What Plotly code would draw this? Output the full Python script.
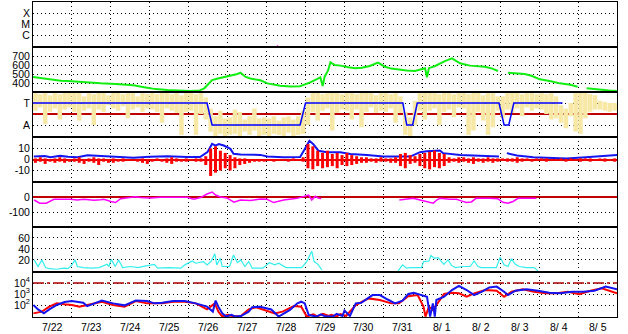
import plotly.graph_objects as go

# ---------------- data (x = days since 7/22 00:00) ----------------
date_labels = ["7/22", "7/23", "7/24", "7/25", "7/26", "7/27", "7/28", "7/29",
               "7/30", "7/31", "8/ 1", "8/ 2", "8/ 3", "8/ 4", "8/ 5"]

# X-ray class panel
xray_days = [6.27, 6.29]
xray_level = [-0.05, 0.05]

# solar wind speed (km/s); None = data gap
speed_days = [0.0, 0.2, 0.45, 0.71, 0.89, 1.22, 1.5, 1.74, 2.12, 2.4, 2.58, 2.89, 3.15, 3.45,
              3.78, 4.02, 4.28, 4.4, 4.53, 4.6, 4.75, 4.86, 5.07, 5.25, 5.33, 5.45, 5.58,
              5.84, 6.02, 6.2, 6.35, 6.61, 6.86, 7.12, 7.3, 7.38, 7.44, 7.49, 7.58, 7.64,
              7.75, 7.9, 8.1, 8.27, 8.45, 8.65, 8.86, 9.04, 9.2, 9.43, 9.6, 9.81, 10.07,
              10.12, 10.17, 10.33, 10.58, 10.76, 10.97, 11.22, 11.4, 11.6, 11.8, 11.94,
              11.97, 12.2, 12.4, 12.63, 12.8, 13.02, 13.3, 13.53, 13.8, 13.99, 14.1,
              14.22, 14.56, 14.8, 15.0]
speed_vals = [467, 455, 435, 425, 422, 410, 404, 396, 390, 384, 374, 350, 332, 322,
              320, 311, 318, 341, 400, 433, 450, 460, 478, 500, 515, 470, 450,
              430, 396, 380, 370, 362, 365, 407, 440, 463, 367, 470, 540, 630,
              600, 593, 575, 563, 570, 589, 626, 581, 560, 544, 538, 533, 563,
              463, 565, 589, 644, 674, 619, 593, 590, 581, 560, 533,
              None, 515, 508, 500, 480, 441, 420, 396, 380, 359, None,
              341, 322, 316, 311]

# IMF sector: yellow = angle spread (lo/hi per 3-hour bin), blue = sector (T=1, A=-1)
ang_lo = [0.3, 0.6, -0.9, 0.2, 0.5, -0.5, 0.4, 0.6,
          0.2, -0.6, 0.3, 0.5, -1.0, 0.4, 0.2, 0.8,
          0.5, 0.3, 0.7, -0.4, 0.4, 0.6, 0.2, 0.5,
          0.4, 0.2, -0.8, 0.5, 0.3, 0.1, -1.9, 0.2,
          0.3, -1.9, 0.0, -0.5, -1.6, -2.0, -1.8, -2.0,
          -1.9, -1.8, -2.0, -1.6, -1.9, -1.5, -2.0, -1.9,
          -2.0, -1.8, -1.9, -2.0, -1.7, -2.0, -1.9, -1.8,
          -1.0, 0.2, -0.6, 0.3, 0.5, -1.5, 0.1, 0.4,
          0.3, -0.5, 0.4, -1.2, 0.2, 0.6, 0.1, 0.3,
          0.2, 0.5, -0.8, 0.1, -1.9, -2.0, -1.0, 0.3,
          -0.5, 0.3, 0.5, -1.0, 0.2, 0.4, -0.3, 0.6,
          0.5, -1.9, -1.5, 0.2, -0.6, -1.9, -1.2, 0.3,
          -0.4, 0.4, 0.1, 0.5, -0.2, 0.6, 0.3, 0.5,
          0.4, 0.0, -0.5, -0.4, -0.8, -1.3, -0.2, -1.6,
          -1.8, -0.4, 0.2, 0.4, 0.4, 0.3, 0.2, 0.3]
ang_hi = [1.9, 1.8, 1.9, 1.7, 1.9, 1.8, 1.9, 1.9,
          1.9, 1.9, 1.6, 1.9, 1.8, 1.9, 1.9, 1.7,
          1.9, 1.9, 1.8, 1.9, 1.9, 1.6, 1.9, 1.8,
          1.9, 1.8, 1.9, 1.9, 1.8, 1.9, 1.7, 1.9,
          1.9, 1.8, 1.9, 1.5, 0.5, -0.2, 0.3, -0.4,
          -0.3, 0.4, 0.2, -0.5, -0.2, 0.5, -0.4, -0.3,
          -0.4, -0.2, -0.6, -0.3, -0.2, -0.5, -0.2, 0.3,
          1.5, 1.9, 1.9, 1.8, 1.9, 1.9, 1.9, 1.8,
          1.9, 1.9, 1.8, 1.9, 1.9, 1.9, 1.7, 1.9,
          1.9, 1.8, 1.9, 1.6, 0.2, -0.3, 1.2, 1.9,
          1.9, 1.9, 1.9, 1.8, 1.9, 1.9, 1.8, 1.9,
          1.9, 1.8, 1.9, 1.9, 1.7, 1.9, 1.9, 1.6,
          1.6, 1.9, 1.9, 1.9, 1.8, 1.9, 1.9, 1.8,
          1.9, 1.8, 1.9, 1.6, 0.8, 0.5, 1.0, 1.9,
          1.9, 1.9, 1.8, 1.7, 1.2, 1.1, 1.0, 1.0]
sector_days = [0.0, 4.47, 4.6, 6.86, 7.0, 9.5, 9.6, 9.75, 9.87, 11.97, 12.1, 12.22, 12.35, 13.6]
sector_vals = [1, 1, -1, -1, 1, 1, -1, -1, 1, 1, -1, -1, 1, 1]

# IMF Bt (blue) and Bz spread (red, lo/hi per 3-hour bin), nT
bt_days = [0.02, 0.3, 0.45, 0.7, 0.9, 1.14, 1.4, 1.74, 2.17, 2.58, 3.0, 3.45, 3.96, 4.29,
           4.48, 4.6, 4.69, 4.77, 4.9, 5.07, 5.15, 5.33, 5.84, 6.02, 6.43, 6.86, 6.97,
           7.1, 7.2, 7.33, 7.55, 7.89, 8.15, 8.58, 9.0, 9.43, 9.69, 9.94, 10.11, 10.45,
           10.53, 10.97, 11.48, 11.97, 12.05, 12.17, 12.43, 12.85, 13.3, 13.7, 14.2,
           14.56, 15.0]
bt_vals = [2.7, 3.2, 2.1, 3.3, 2.6, 2.0, 3.9, 3.3, 2.4, 1.5, 2.4, 3.0, 2.2, 2.2,
           6.7, 14.2, 12.7, 14.0, 12.7, 9.7, 5.2, 4.5, 4.2, 2.7, 2.0, 2.2, 8.8,
           17.0, 14.0, 8.0, 6.7, 6.7, 5.0, 4.2, 2.7, 2.7, 2.7, 6.7, 7.6, 8.2,
           5.8, 4.2, 3.3, 2.7, None, 5.8, 3.6, 2.1, 1.5, 1.0, 2.0,
           3.0, 4.2]
bz_lo = [-3, -2, -4, -2, -3, -2, -3, -2,
         -2, -3, -4, -2, -3, -5, -2, -3,
         -3, -2, -2, -1, -1, -2, -3, -4,
         -2, -1, -2, -3, -4, -2, -2, -2,
         -1, -2, -2, -5, -15, -12, -10, -8,
         -10, -8, -5, -4, -3, -2, -2, -2,
         -1, -2, -1, -1, -2, -1, -1, -2,
         -8, -9, -6, -8, -7, -6, -8, -5,
         -6, -5, -4, -3, -3, -2, -3, -2,
         -2, -3, -3, -6, -8, -4, -3, -6,
         -8, -9, -7, -8, -6, -3, -2, -3,
         -2, -3, -4, -2, -3, -2, -3, -2,
         -1, -2, -2, -3, -2, -1, -2, -1,
         -1, -2, -1, -1, -1, -2, -1, -1,
         -2, -1, -2, -1, -1, -2, -1, -2]
bz_hi = [1, 2, 1, 0.5, 1, 2, 1, 0.5,
         1, 2, 0.5, 1, 2, 1, 1, 0.5,
         1, 0.5, 1, 0.5, 0, 0.5, 1, 0.5,
         0.5, 1, 0.5, 1, 2, 1, 0.5, 1,
         0.5, 1, 1, 3, 10, 12, 8, 6,
         4, 2, 1, 1, 0.5, 0.5, 0.5, 0.5,
         0.5, 0.5, 0.5, 0.5, 0.5, 1, 0.5, 2,
         14, 12, 8, 6, 8, 5, 6, 4,
         6, 4, 3, 2, 2, 1, 1, 2,
         1, 1, 2, 5, 6, 4, 3, 5,
         6, 7, 8, 6, 5, 2, 1, 2,
         2, 1, 2, 1, 1, 2, 1, 1,
         1, 1, 1, 2, 1, 1, 0.5, 1,
         1, 1, 0.5, 0.5, 1, 0.5, 1, 0.5,
         1, 1, 1, 0.5, 1, 1, 0.5, 1]

# Dst index (nT)
dst_days = [0.03, 0.17, 0.34, 0.46, 0.54, 0.97, 1.14, 1.31, 1.56, 1.74, 1.82, 2.0, 2.12,
            2.25, 2.42, 2.63, 2.76, 3.02, 3.27, 3.62, 3.96, 4.13, 4.3, 4.47, 4.6, 4.69,
            4.81, 4.98, 5.16, 5.33, 5.58, 5.84, 6.01, 6.18, 6.44, 6.78, 7.0, 7.08, 7.16,
            7.25, 7.34, 7.4, 7.41,
            9.41, 9.6, 9.77, 9.94, 10.11, 10.28, 10.37, 10.45, 10.71, 10.88, 11.0, 11.13,
            11.26, 11.38, 11.72, 11.94, 12.07, 12.2, 12.33, 12.46, 12.76, 12.93]
dst_vals = [-20, -41, -41, -24, -15, -15, -20, -15, -22, -18, -15, -30, -37,
            -11, -5, 2, -4, -6, -2, -4, -2, -15, -4, 20, 33, 13,
            0, -6, -35, -20, -24, -13, -15, -37, -20, -9, 10, 13, -20,
            5, -9, -10, None,
            -20, -15, -9, -20, -30, -41, -20, -9, -15, -15, -26, -37,
            -33, -9, -9, -12, -35, -41, -30, -9, -9, -8]

# geomagnetic activity (cyan)
kp_days = [0.03, 0.13, 0.23, 0.32, 0.42, 0.6, 0.8, 0.9, 1.0, 1.08, 1.14, 1.29, 1.5, 1.7,
           1.9, 1.95, 2.01, 2.11, 2.2, 2.3, 2.5, 2.7, 2.9, 3.12, 3.2, 3.5, 3.8, 3.9,
           4.09, 4.18, 4.38, 4.47, 4.57, 4.67, 4.72, 4.81, 4.86, 5.05, 5.15, 5.25, 5.34,
           5.44, 5.54, 5.63, 5.9, 6.07, 6.21, 6.31, 6.5, 6.9, 7.03, 7.16, 7.22, 7.32,
           7.42, 7.43,
           9.38, 9.49, 9.59, 9.7, 9.98, 10.03, 10.17, 10.22, 10.31, 10.41, 10.55, 10.66,
           10.75, 10.85, 11.04, 11.23, 11.33, 11.43, 11.52, 11.9, 12.0, 12.1, 12.2,
           12.29, 12.39, 12.49, 12.68, 12.87, 12.97]
kp_vals = [20, 8, 20, 6, 4, 3, 5, 4, 11, 20, 8, 6, 5, 6,
           12, 8, 21, 8, 20, 6, 8, 6, 9, 12, 5, 6, 5, 11,
           18, 14, 17, 11, 17, 31, 11, 23, 8, 8, 29, 15, 20,
           8, 17, 5, 5, 15, 11, 14, 6, 6, 17, 36, 17, 12,
           2, None,
           0, 11, 5, 6, 6, 17, 18, 28, 23, 24, 12, 20,
           10, 6, 8, 8, 18, 8, 6, 6, 25, 11, 8,
           22, 12, 8, 6, 6, 0]

# electron flux (log10), blue and red channels, plus 10^4 alert level
eb_days = [0.01, 0.13, 0.28, 0.42, 0.61, 0.81, 1.0, 1.29, 1.39, 1.58, 1.77, 2.06, 2.35, 2.64,
           2.93, 3.12, 3.32, 3.6, 3.9, 4.18, 4.47, 4.62, 4.69, 4.76, 4.86, 4.96, 5.1, 5.2,
           5.34, 5.54, 5.63, 5.83, 6.12, 6.31, 6.6, 6.79, 6.89, 6.98, 7.08, 7.27, 7.4, 7.5,
           7.7, 7.8, 7.95, 8.0, 8.14, 8.29, 8.43, 8.72, 8.91, 9.11, 9.3, 9.49, 9.64, 9.78,
           9.98, 10.12, 10.2, 10.27, 10.32, 10.36, 10.56, 10.76, 10.94, 11.14, 11.33, 11.52,
           11.72, 11.91, 12.1, 12.2, 12.39, 12.68, 12.97, 13.26, 13.55, 13.84, 14.13, 14.42,
           14.71, 15.0]
eb_vals = [2.0, 1.6, 1.24, 1.6, 2.0, 2.27, 2.36, 2.2, 1.9, 2.15, 2.4, 2.15, 1.97, 2.4,
           2.36, 2.15, 2.2, 2.36, 2.36, 2.15, 1.85, 1.4, 2.4, 1.85, 1.24, 0.95, 1.1, 0.95,
           1.0, 1.4, 1.8, 1.85, 1.6, 0.95, 1.55, 2.15, 2.3, 2.15, 1.1, 0.95, 1.15, 0.97,
           0.95, 1.2, 1.0, 1.5, 1.0, 2.15, 2.2, 2.9, 2.9, 2.5, 2.15, 2.4, 3.0, 3.1,
           2.9, 2.75, 0.95, 2.15, 0.95, 2.45, 2.75, 3.36, 3.73, 3.36, 2.9, 3.2,
           3.6, 3.67, 3.2, 2.9, 3.3, 3.42, 3.3, 3.12, 3.06, 3.2, 3.2, 3.3,
           3.67, 3.42]
er_days = [0.01, 0.23, 0.42, 0.61, 0.81, 1.0, 1.19, 1.39, 1.58, 1.77, 2.06, 2.35, 2.64, 2.93,
           3.32, 3.6, 3.9, 4.18, 4.47, 4.67, 4.76, 4.86, 5.0, 5.15, 5.34, 5.54, 5.73, 6.02,
           6.21, 6.41, 6.7, 6.89, 7.03, 7.2, 7.3, 7.45, 7.6, 7.66, 7.8, 7.9, 8.04, 8.29,
           8.62, 8.91, 9.2, 9.4, 9.64, 9.88, 10.03, 10.08, 10.17, 10.27, 10.36, 10.56,
           10.76, 10.94, 11.14, 11.33, 11.62, 11.91, 12.1, 12.29, 12.58, 12.87, 13.16,
           13.45, 13.74, 14.03, 14.32, 14.61, 15.0]
er_vals = [1.24, 1.4, 1.85, 2.15, 2.06, 2.0, 1.85, 2.0, 2.15, 2.3, 2.0, 1.85, 2.36, 2.15,
           2.15, 2.3, 2.3, 2.15, 1.6, 2.15, 1.4, 0.95, 1.1, 0.97, 1.0, 1.6, 1.8, 1.5,
           1.24, 1.4, 1.9, 1.85, 0.95, 1.15, 0.97, 1.2, 1.0, 1.1, 0.96, 1.18, 1.0, 2.0,
           2.6, 2.45, 2.15, 2.15, 2.8, 2.9, 1.85, 0.95, 1.85, 1.55, 2.0, 3.0,
           3.12, 3.06, 2.75, 3.06, 3.36, 3.3, 2.75, 3.2, 3.42, 3.2, 3.06,
           3.06, 3.2, 2.98, 3.3, 3.52, 3.06]
alert_days = [0, 15]
alert_level = [4, 4]

# ---------------- figure ----------------
BIN = 0.125  # 3-hour bins


def bars(lo, hi):
    """vertical spread segment per time bin"""
    xs, ys = [], []
    for i, (a, b) in enumerate(zip(lo, hi)):
        t = i * BIN + BIN / 2
        xs += [t, t, None]
        ys += [a, b, None]
    return xs, ys


fig = go.Figure()


def add(x, y, panel, color, width, dash=None):
    fig.add_trace(go.Scatter(
        x=x, y=y, mode="lines", line=dict(color=color, width=width, dash=dash),
        xaxis="x" if panel == 1 else f"x{panel}",
        yaxis="y" if panel == 1 else f"y{panel}",
        connectgaps=False, hoverinfo="skip", showlegend=False))


add(xray_days, xray_level, 1, "#FF00FF", 1.5)
add(speed_days, speed_vals, 2, "#11EE11", 2)
ax, ay = bars(ang_lo, ang_hi)
add(ax, ay, 3, "#F8E8A6", 4.5)
add(sector_days, sector_vals, 3, "#0000FF", 1.5)
add(bt_days, bt_vals, 4, "#1414F0", 2)
zx, zy = bars(bz_lo, bz_hi)
add(zx, zy, 4, "#FF0000", 3)
add(dst_days, dst_vals, 5, "#FF00FF", 1.5)
add(kp_days, kp_vals, 6, "#33EEEE", 1.2)
add(er_days, [10 ** v for v in er_vals], 7, "#FF0000", 2)
add(eb_days, [10 ** v for v in eb_vals], 7, "#1414F0", 2)
add(alert_days, [10 ** v for v in alert_level], 7, "#B00000", 1.5, "11px,3px,3px,3px")

FONT = dict(family="Liberation Sans, Arial, sans-serif", size=10.5, color="black")
DOT = "1px,3px"
yspecs = {
    1: dict(range=[-0.09, 4.0], tickvals=[1, 2, 3], ticktext=["C", "M", "X"]),
    2: dict(range=[300, 800], tickvals=[400, 500, 600, 700], ticktext=["400", "500", "600", "700"]),
    3: dict(range=[-2.09, 2.0], tickvals=[1, -1], ticktext=["T", "A"],
            zeroline=True, zerolinecolor="#C00000", zerolinewidth=1.5),
    4: dict(range=[-20.5, 20.5], tickvals=[10, 0, -10], ticktext=["10", "0", "-10"],
            zeroline=True, zerolinecolor="#E00000", zerolinewidth=1.5),
    5: dict(range=[-200, 100], tickvals=[0, -100], ticktext=["0", "-100"],
            zeroline=True, zerolinecolor="#C00000", zerolinewidth=1.5),
    6: dict(range=[-2, 80], tickvals=[20, 40, 60], ticktext=["20", "40", "60"]),
    7: dict(type="log", range=[0.91, 5.0], tickvals=[100, 1000, 10000],
            ticktext=["10<sup>2</sup>", "10<sup>3</sup>", "10<sup>4</sup>"]),
}
layout = dict(width=628, height=334, margin=dict(l=33, r=11, t=2, b=17),
              paper_bgcolor="white", plot_bgcolor="white", showlegend=False,
              font=FONT)
for p in range(1, 8):
    xk = "xaxis" if p == 1 else f"xaxis{p}"
    yk = "yaxis" if p == 1 else f"yaxis{p}"
    top = 1 - (p - 1) / 7
    bot = 1 - p / 7
    layout[xk] = dict(domain=[0, 1], range=[0, 15], anchor="y" if p == 1 else f"y{p}",
                      tickvals=list(range(1, 15)), showticklabels=False, ticks="",
                      showgrid=True, gridcolor="black", griddash=DOT, gridwidth=1,
                      showline=True, mirror=True, linecolor="black", linewidth=1,
                      zeroline=False, fixedrange=True)
    if p > 1:
        layout[xk]["matches"] = "x"
    ys = dict(domain=[bot, top], anchor="x" if p == 1 else f"x{p}",
              showgrid=True, gridcolor="black", griddash=DOT, gridwidth=1,
              showline=True, mirror=True, linecolor="black", linewidth=1,
              ticks="", tickfont=FONT, zeroline=False, fixedrange=True)
    ys.update(yspecs[p])
    layout[yk] = ys
fig.update_layout(**layout)

for k, lab in enumerate(date_labels):
    fig.add_annotation(x=k + 0.5, xref="x7", y=0, yref="paper", yanchor="top",
                       yshift=-2, text=lab, showarrow=False, font=FONT)

fig.write_html("out.html")
